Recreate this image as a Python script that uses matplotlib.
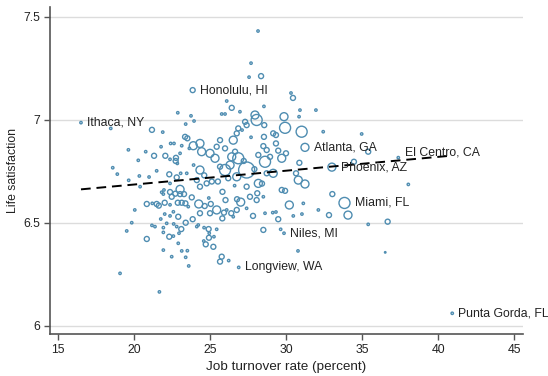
import matplotlib
matplotlib.use("Agg")
import matplotlib.pyplot as plt
import numpy as np

plt.rcParams['font.family'] = ['Liberation Sans', 'DejaVu Sans']

# Labelled metro areas
city_names = ["Ithaca, NY", "Honolulu, HI", "Atlanta, GA", "El Centro, CA", "Phoenix, AZ",
              "Miami, FL", "Niles, MI", "Longview, WA", "Punta Gorda, FL"]
city_x = [16.49, 23.84, 31.23, 37.37, 33.00, 33.83, 29.85, 26.87, 40.92]
city_y = [6.986, 7.144, 6.866, 6.816, 6.770, 6.596, 6.449, 6.283, 6.060]
city_w = [1, 2, 3, 1, 3, 4, 1, 1, 1]

# Other metro areas: turnover (x), life satisfaction (y), population class (w)
other_x = [28.14, 27.68, 27.55, 28.34, 30.31, 30.44, 28.53, 30.90, 31.95, 22.86,
           23.73, 25.75, 25.97, 26.41, 26.95, 23.93, 23.38, 21.16, 21.87, 18.45,
           28.05, 27.94, 27.29, 26.84, 27.09, 27.68, 28.55, 29.85, 29.92, 31.01,
           30.84, 32.43, 34.96, 29.14, 29.32, 28.53, 28.49, 28.71, 29.32, 29.47,
           29.98, 29.70, 28.60, 30.86, 35.39, 34.45, 38.03, 31.23, 33.03, 30.20,
           31.12, 32.11, 32.81, 34.06, 31.03, 30.46, 35.39, 36.67, 30.77, 36.51,
           28.49, 29.63, 28.60, 29.11, 29.32, 29.47, 29.70, 29.92, 27.81, 28.09,
           27.00, 26.76, 26.38, 25.90, 25.79, 25.42, 25.03, 24.63, 24.24, 23.55,
           23.36, 23.12, 22.86, 23.27, 23.01, 22.70, 22.35, 21.95, 21.91, 22.35,
           22.00, 21.61, 21.47, 21.18, 20.82, 20.38, 20.03, 22.00, 21.74, 22.35,
           22.57, 21.91, 21.91, 21.16, 21.36, 19.50, 19.83, 20.82, 22.30, 22.57,
           22.94, 23.09, 22.79, 22.59, 22.13, 23.38, 23.84, 24.21, 24.59, 24.89,
           24.93, 24.57, 24.91, 25.24, 24.70, 25.20, 25.42, 21.91, 22.46, 23.38,
           23.49, 23.58, 25.75, 25.64, 26.21, 19.06, 21.65, 22.89, 23.12, 19.61,
           20.26, 20.75, 21.30, 21.76, 22.39, 22.61, 22.04, 22.35, 22.72, 23.01,
           23.34, 23.49, 23.12, 23.62, 23.88, 18.58, 18.88, 19.63, 20.33, 20.97,
           21.47, 22.30, 22.79, 23.05, 23.45, 24.11, 24.32, 24.43, 22.74, 22.83,
           23.01, 22.35, 22.46, 22.89, 21.80, 23.78, 24.32, 24.76, 24.32, 24.98,
           25.31, 25.64, 25.97, 25.42, 25.64, 26.51, 26.63, 26.41, 26.84, 27.39,
           26.74, 26.18, 27.39, 28.16, 27.61, 28.05, 28.49, 28.71, 29.14, 28.16,
           28.93, 27.39, 26.74, 25.97, 24.98, 24.32, 26.08, 26.74, 27.39, 26.51,
           24.11, 30.79, 30.64, 26.08, 25.10, 25.80, 26.30, 24.60, 27.90, 26.00,
           24.90, 27.20, 25.50, 23.90, 28.40, 26.60]
other_y = [7.431, 7.275, 7.207, 7.212, 7.130, 7.106, 7.065, 7.047, 7.047, 7.034,
           7.019, 7.028, 7.028, 7.058, 7.039, 6.994, 6.979, 6.951, 6.940, 6.958,
           6.999, 7.023, 6.990, 6.958, 6.950, 6.915, 6.974, 7.015, 6.961, 6.942,
           7.015, 6.942, 6.931, 6.934, 6.926, 6.917, 6.872, 6.853, 6.885, 6.850,
           6.837, 6.813, 6.796, 6.791, 6.845, 6.796, 6.686, 6.688, 6.639, 6.586,
           6.594, 6.562, 6.537, 6.537, 6.542, 6.533, 6.492, 6.505, 6.363, 6.356,
           6.465, 6.468, 6.546, 6.549, 6.552, 6.517, 6.659, 6.655, 6.533, 6.643,
           6.600, 6.614, 6.546, 6.549, 6.521, 6.562, 6.591, 6.581, 6.591, 6.578,
           6.594, 6.597, 6.597, 6.639, 6.639, 6.641, 6.649, 6.659, 6.639, 6.587,
           6.597, 6.583, 6.591, 6.594, 6.591, 6.675, 6.562, 6.542, 6.518, 6.533,
           6.553, 6.476, 6.453, 6.487, 6.481, 6.460, 6.500, 6.421, 6.432, 6.435,
           6.449, 6.469, 6.481, 6.494, 6.497, 6.500, 6.517, 6.489, 6.476, 6.469,
           6.449, 6.411, 6.427, 6.432, 6.395, 6.383, 6.468, 6.367, 6.335, 6.332,
           6.364, 6.290, 6.335, 6.311, 6.316, 6.254, 6.164, 6.400, 6.363, 6.854,
           6.803, 6.845, 6.825, 6.869, 6.885, 6.885, 6.825, 6.808, 6.800, 6.837,
           6.917, 6.910, 6.874, 6.861, 6.874, 6.767, 6.736, 6.706, 6.727, 6.722,
           6.752, 6.735, 6.720, 6.740, 6.740, 6.707, 6.885, 6.845, 6.815, 6.788,
           6.662, 6.691, 6.626, 6.529, 6.648, 6.623, 6.675, 6.691, 6.756, 6.837,
           6.813, 6.772, 6.756, 6.869, 6.901, 6.901, 6.845, 6.820, 6.813, 6.756,
           6.723, 6.716, 6.675, 6.691, 6.626, 6.610, 6.626, 6.740, 6.740, 6.829,
           6.820, 6.974, 6.934, 6.861, 6.546, 6.546, 6.562, 6.562, 6.570, 6.529,
           6.481, 6.707, 6.740, 7.091, 6.700, 6.650, 6.780, 6.730, 6.760, 6.610,
           6.620, 6.800, 6.700, 6.780, 6.690, 6.680]
other_w = [1, 1, 1, 2, 1, 2, 1, 1, 1, 1,
           1, 1, 1, 2, 1, 1, 1, 2, 1, 1,
           4, 3, 2, 2, 1, 1, 2, 3, 4, 4,
           1, 1, 1, 2, 2, 2, 2, 2, 2, 2,
           2, 3, 4, 2, 2, 2, 1, 3, 2, 3,
           1, 1, 2, 3, 1, 1, 1, 2, 1, 0,
           2, 1, 1, 1, 1, 2, 2, 2, 2, 2,
           3, 2, 2, 2, 2, 3, 2, 2, 3, 1,
           2, 2, 2, 2, 2, 2, 2, 1, 1, 1,
           2, 2, 2, 1, 2, 1, 1, 1, 1, 1,
           1, 1, 1, 1, 1, 1, 1, 2, 2, 1,
           1, 2, 1, 1, 1, 2, 2, 1, 1, 2,
           1, 1, 2, 1, 2, 2, 1, 1, 1, 1,
           1, 1, 2, 2, 1, 1, 1, 1, 1, 1,
           1, 1, 2, 1, 1, 1, 2, 1, 2, 1,
           2, 2, 1, 1, 3, 1, 1, 1, 1, 1,
           1, 2, 2, 1, 1, 2, 3, 3, 2, 1,
           3, 1, 2, 2, 1, 2, 2, 2, 3, 3,
           3, 2, 4, 2, 2, 3, 2, 3, 4, 5,
           3, 2, 2, 3, 2, 2, 1, 2, 3, 2,
           2, 2, 2, 2, 2, 2, 1, 2, 1, 1,
           1, 3, 2, 1, 2, 2, 3, 2, 2, 2,
           1, 2, 2, 1, 2, 1]

# Fitted line endpoints
fit_x = [16.49, 40.92]
fit_y = [6.662, 6.826]

x_ticks = [15, 20, 25, 30, 35, 40, 45]
y_ticks = [6, 6.5, 7, 7.5]
y_ticklabels = ["6", "6.5", "7", "7.5"]

size_map = {0: 1.2, 1: 3.0, 2: 13, 3: 33, 4: 63, 5: 133}
color = '#4f8db1'

fig = plt.figure(figsize=(5.48, 3.76), dpi=100)
ax = fig.add_axes([0.0912, 0.112, 0.863, 0.869])

ax.scatter(other_x, other_y, s=[size_map[w] for w in other_w],
           facecolors='none', edgecolors=color, linewidths=1.0, zorder=3)
ax.scatter(city_x, city_y, s=[size_map[w] for w in city_w],
           facecolors='none', edgecolors=color, linewidths=1.0, zorder=3)

ax.plot(fit_x, fit_y, color='black', linestyle=(0, (5, 3)), linewidth=1.4, zorder=4)

offsets = {"El Centro, CA": (4.5, 4)}
for name, cx, cy, w in zip(city_names, city_x, city_y, city_w):
    dx = 3.5 + np.sqrt(size_map[w]) / 2
    off = offsets.get(name, (dx, 0))
    ax.annotate(name, (cx, cy), xytext=off, textcoords='offset points',
                ha='left', va='center', fontsize=8.8, color='#222222', zorder=5)

ax.set_xlim(14.45, 45.57)
ax.set_ylim(5.96, 7.547)
ax.set_xticks(x_ticks)
ax.set_yticks(y_ticks)
ax.set_yticklabels(y_ticklabels)
ax.yaxis.grid(True, color='#dcdcdc', linewidth=1.0)
ax.set_axisbelow(True)
for s in ['top', 'right']:
    ax.spines[s].set_visible(False)
for s in ['left', 'bottom']:
    ax.spines[s].set_color('#555555')
    ax.spines[s].set_linewidth(1.2)
ax.tick_params(axis='both', direction='out', length=4, width=1.0, color='#555555',
               labelsize=8.8, labelcolor='#222222', pad=3)
ax.set_xlabel("Job turnover rate (percent)", fontsize=9.7, color='#222222', labelpad=4)
ax.set_ylabel("Life satisfaction", fontsize=8.8, color='#222222', labelpad=3)

fig.savefig("out.png", dpi=100)
